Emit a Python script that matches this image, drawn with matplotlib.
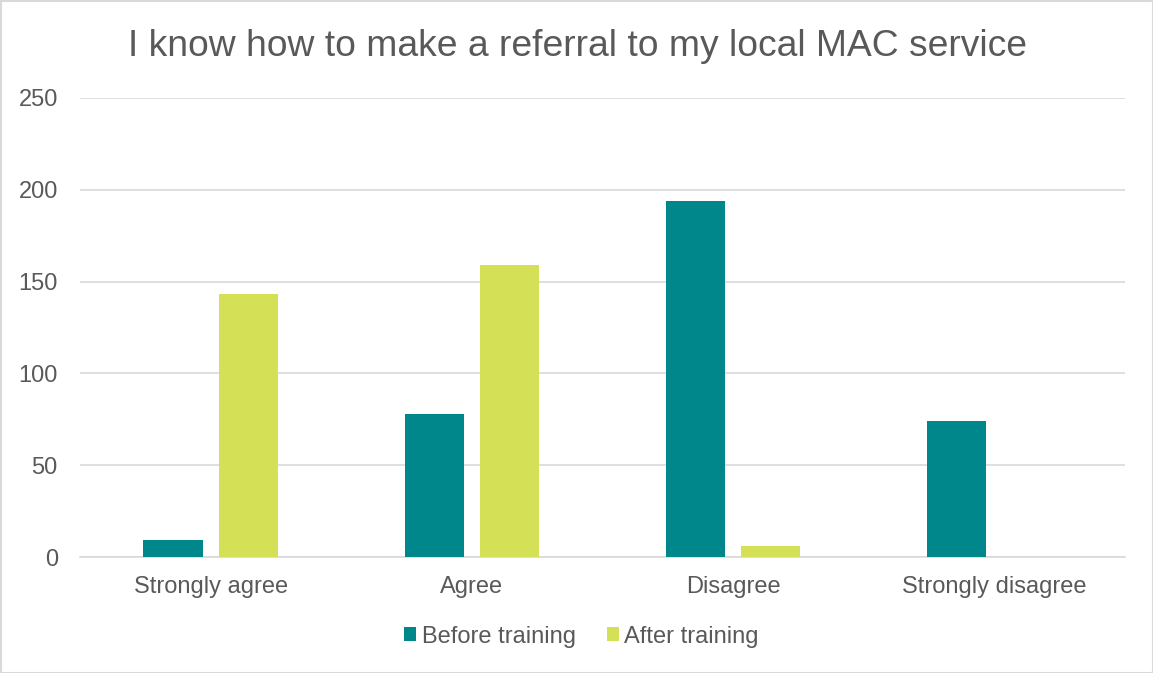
import numpy as np
import matplotlib
matplotlib.use("Agg")
import matplotlib.pyplot as plt
from matplotlib.patches import Rectangle

categories = ["Strongly agree", "Agree", "Disagree", "Strongly disagree"]
before_training = [9, 78, 194, 74]
after_training = [143, 159, 6, 0]
yticks = [0, 50, 100, 150, 200, 250]

teal = "#00878C"
lime = "#D4E157"
grey = "#595959"

plt.rcParams["font.family"] = ["Liberation Sans", "DejaVu Sans"]

fig = plt.figure(figsize=(11.53, 6.73), dpi=100)
ax = fig.add_axes([80 / 1153, 1 - 557 / 673, 1045 / 1153, 459 / 673])

x = np.arange(len(categories))
w = 0.226
off = 0.144
ax.bar(x - off, before_training, w, color=teal, label="Before training", zorder=3)
ax.bar(x + off, after_training, w, color=lime, label="After training", zorder=3)

ax.set_xlim(-0.5, len(categories) - 0.5)
ax.set_ylim(0, 250)
ax.set_yticks(yticks)
ax.set_xticks(x)
ax.set_xticklabels(categories)
ax.tick_params(axis="both", length=0, colors=grey, labelsize=17)
ax.tick_params(axis="y", pad=16)
ax.tick_params(axis="x", pad=13.5)
ax.grid(axis="y", color="#D9D9D9", linewidth=1.2, zorder=0)
for s in ["top", "right", "left"]:
    ax.spines[s].set_visible(False)
ax.spines["bottom"].set_color("#D9D9D9")
ax.spines["bottom"].set_linewidth(1.2)

fig.text(577 / 1153, 1 - 46 / 673, "I know how to make a referral to my local MAC service",
         ha="center", va="center", fontsize=26.8, color=grey)

ax.legend(loc="upper center", bbox_to_anchor=(0.48, -0.103), ncol=2, frameon=False,
          fontsize=17, labelcolor=grey, handlelength=0.5, handleheight=0.5,
          handletextpad=0.25, columnspacing=1.3)

fig.patches.append(Rectangle((0.5 / 1153, 0.5 / 673), 1 - 1 / 1153, 1 - 1 / 673,
                             transform=fig.transFigure, fill=False,
                             edgecolor="#D9D9D9", linewidth=1.5))

fig.savefig("out.png", dpi=100)
